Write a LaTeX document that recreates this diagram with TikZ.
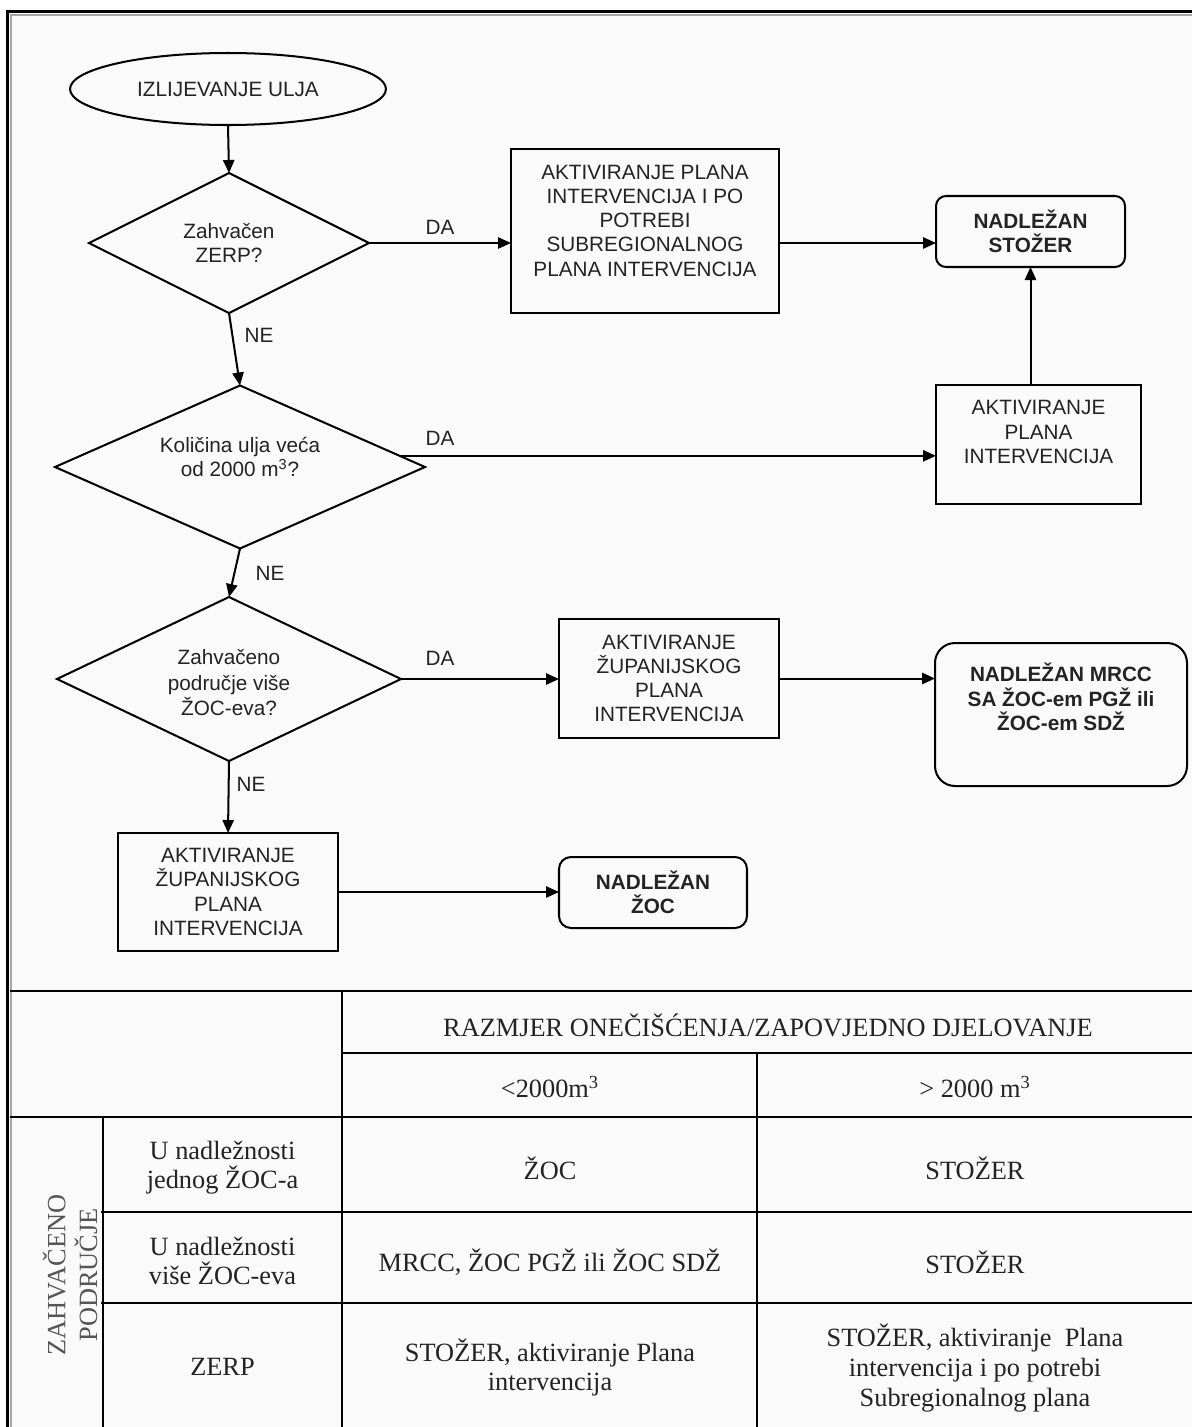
\documentclass[tikz,border=0pt]{standalone}
\usepackage{fontspec}
\setmainfont{Liberation Sans}
\newfontfamily\serifface{Liberation Serif}
\usetikzlibrary{shapes.geometric,arrows.meta,calc}
\newlength\pxu
\setlength\pxu{0.02cm}
\definecolor{bgc}{RGB}{249,250,249}
\definecolor{ink}{RGB}{35,35,35}
\definecolor{rotgray}{RGB}{85,85,85}
\begin{document}
\begin{tikzpicture}[x=0.02cm,y=-0.02cm,
  every node/.style={inner sep=0pt, outer sep=0pt, text=ink},
  fctext/.style={font=\fontsize{11.8}{13.8}\selectfont, align=center},
  fcbold/.style={font=\bfseries\fontsize{11.8}{13.8}\selectfont, align=center},
  tbtext/.style={font=\serifface\fontsize{15}{16.5}\selectfont, align=center},
  shp/.style={draw=black, line width=1.15pt},
  procbox/.style={shp, rectangle},
  roundbox/.style={shp, rectangle, rounded corners=10\pxu},
  decision/.style={shp, diamond, aspect=2, fctext},
  conn/.style={draw=black, line width=1.15pt, -{Triangle[length=7.4pt, width=6.4pt]}},
  answer/.style={fctext},
  tblrule/.style={draw=black, line width=0.95pt}
]
\useasboundingbox (0,0) rectangle (1192,1427);
\fill[white] (0,0) rectangle (1192,1427);
\begin{scope}
  \clip (0,0) rectangle (1192,1427);
  \fill[bgc] (8,12) rectangle (1250,1480);
  \draw[black, line width=3\pxu] (7.5,1480) |- (1250,11);
  \draw[gray!70, line width=2\pxu] (10.5,1480) |- (1250,14.5);
  % table rules
  \draw[tblrule] (10,991) -- (1250,991);
  \draw[tblrule] (342,1053) -- (1250,1053);
  \draw[tblrule] (10,1117) -- (1250,1117);
  \draw[tblrule] (101,1212) -- (1250,1212);
  \draw[tblrule] (101,1303) -- (1250,1303);
  \draw[tblrule] (342,991) -- (342,1480);
  \draw[tblrule] (757,1053) -- (757,1480);
  \draw[tblrule] (103,1117) -- (103,1480);
\end{scope}

% flowchart nodes
\node[shp, ellipse, minimum width=316\pxu, minimum height=72\pxu, fctext] (start) at (228,89) {IZLIJEVANJE ULJA};
\node[decision, minimum width=280\pxu, minimum height=140\pxu] (d1) at (229,243) {Zahvačen\\ZERP?};
\node[procbox, minimum width=268\pxu, minimum height=164\pxu] (b1) at (645,231) {};
\node[fctext] (b1t) at (645,220.5) {AKTIVIRANJE PLANA\\INTERVENCIJA I PO\\POTREBI\\SUBREGIONALNOG\\PLANA INTERVENCIJA};
\node[roundbox, minimum width=189\pxu, minimum height=71\pxu, fcbold] (stozer) at (1030.5,231.5) {NADLEŽAN\\STOŽER};
\node[decision, minimum width=370\pxu, minimum height=163\pxu] (d2) at (240,467) {};
\node[fctext] (d2t) at (240,457) {Količina ulja veća\\od 2000 m\textsuperscript{3}?};
\node[procbox, minimum width=205\pxu, minimum height=119\pxu] (b2) at (1038.5,444.5) {};
\node[fctext] (b2t) at (1038.5,432) {AKTIVIRANJE\\PLANA\\INTERVENCIJA};
\node[decision, minimum width=344\pxu, minimum height=164\pxu] (d3) at (229,679) {};
\node[fctext, font=\fontsize{11.8}{14.5}\selectfont] (d3t) at (229,683) {Zahvačeno\\područje više\\ŽOC-eva?};
\node[procbox, minimum width=220\pxu, minimum height=119\pxu, fctext] (b3) at (669,678.5) {AKTIVIRANJE\\ŽUPANIJSKOG\\PLANA\\INTERVENCIJA};
\node[roundbox, rounded corners=20\pxu, minimum width=252\pxu, minimum height=143\pxu] (mrcc) at (1061,714.5) {};
\node[fcbold] (mrcct) at (1061,697) {NADLEŽAN MRCC\\SA ŽOC-em PGŽ ili\\ŽOC-em SDŽ};
\node[procbox, minimum width=220\pxu, minimum height=118\pxu, fctext] (b4) at (228,892) {AKTIVIRANJE\\ŽUPANIJSKOG\\PLANA\\INTERVENCIJA};
\node[roundbox, rounded corners=12\pxu, minimum width=188\pxu, minimum height=71\pxu, fcbold] (zoc) at (653,892.5) {NADLEŽAN\\ŽOC};

% connectors
\draw[conn] (start.south) -- (d1.north);
\draw[conn] (d1.east) -- (b1.west |- d1.east);
\draw[conn] (b1.east |- d1.east) -- (stozer.west |- d1.east);
\draw[conn] (stozer.south |- b2.north) -- (stozer.south);
\draw[conn] (d2.4) -- (d2.4 -| b2.west);
\draw[conn] (d1.south) -- (d2.north);
\draw[conn] (d2.south) -- (d3.north);
\draw[conn] (d3.east) -- (b3.west |- d3.east);
\draw[conn] (b3.east) -- (b3.east -| mrcc.west);
\draw[conn] (d3.south) -- (b4.north);
\draw[conn] (b4.east) -- (b4.east -| zoc.west);

% connector labels
\node[answer] (da1) at (440,227) {DA};
\node[answer] (da2) at (440,438) {DA};
\node[answer] (da3) at (440,658) {DA};
\node[answer] (ne1) at (259,335) {NE};
\node[answer] (ne2) at (270,573) {NE};
\node[answer] (ne3) at (251,784) {NE};

% table texts
\node[tbtext] (th) at (768,1025) {RAZMJER ONEČIŠĆENJA/ZAPOVJEDNO DJELOVANJE};
\node[tbtext] (c1) at (550,1087) {<2000m\textsuperscript{3}};
\node[tbtext] (c2) at (975,1087) {> 2000 m\textsuperscript{3}};
\node[tbtext] (r1) at (222.5,1168) {U nadležnosti\\jednog ŽOC-a};
\node[tbtext] (r2) at (222.5,1261) {U nadležnosti\\više ŽOC-eva};
\node[tbtext] (r3) at (222.5,1367) {ZERP};
\node[tbtext] (v11) at (550,1168) {ŽOC};
\node[tbtext] (v12) at (975,1168) {STOŽER};
\node[tbtext] (v21) at (550,1262) {MRCC, ŽOC PGŽ ili ŽOC SDŽ};
\node[tbtext] (v22) at (975,1262) {STOŽER};
\node[tbtext] (v31) at (550,1367) {STOŽER, aktiviranje Plana\\intervencija};
\node[tbtext, font=\serifface\fontsize{15}{17}\selectfont] (v32) at (975,1368) {STOŽER, aktiviranje\ \ Plana\\intervencija i po potrebi\\Subregionalnog plana};
\node[tbtext, text=rotgray, rotate=90, font=\serifface\fontsize{15}{18}\selectfont] (side) at (70,1275) {ZAHVAČENO\\PODRUČJE};
\end{tikzpicture}
\end{document}
